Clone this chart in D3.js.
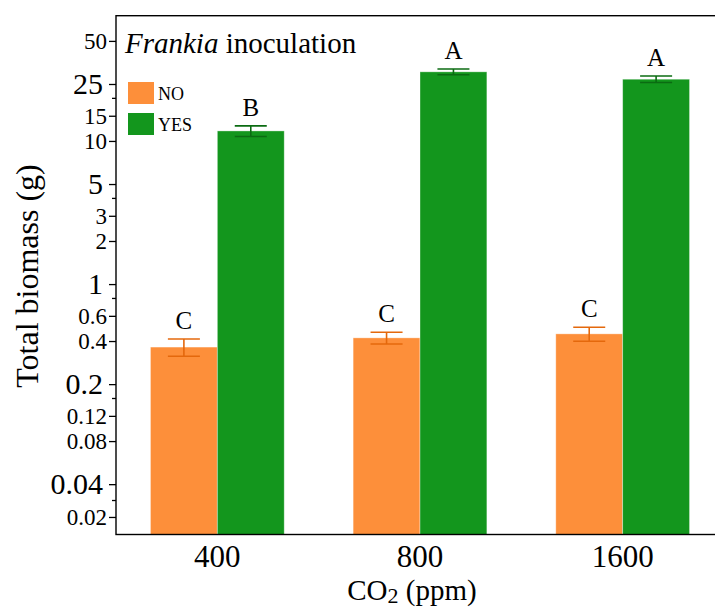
<!DOCTYPE html>
<html>
<head>
<meta charset="utf-8">
<script src="https://cdn.jsdelivr.net/npm/d3@7"></script>
<style>
  html, body { margin: 0; padding: 0; background: #fff; }
  svg { display: block; font-family: "Liberation Serif", "Times New Roman", serif; }
</style>
</head>
<body>
<svg id="chart" width="715" height="610"></svg>
<script>
// ---- data ----
const categories = ["400", "800", "1600"];
const groups = ["NO", "YES"];
const noValues = [0.363, 0.421, 0.449];
const noErrors = [0.05, 0.04, 0.05];
const yesValues = [11.75, 30.4, 27.0];
const yesErrors = [1.0, 1.4, 1.4];
const noLetters = ["C", "C", "C"];
const yesLetters = ["B", "A", "A"];
const yTickValues = [50, 25, 15, 10, 5, 3, 2, 1, 0.6, 0.4, 0.2, 0.12, 0.08, 0.04, 0.0236];
const yTickLabels = ["50", "25", "15", "10", "5", "3", "2", "1", "0.6", "0.4", "0.2", "0.12", "0.08", "0.04", "0.02"];
const yMajorLabels = ["25", "5", "1", "0.2", "0.04"];
const yMinorTicks = [20, 4, 0.8, 0.16, 0.031];
const yDomain = [0.0178, 75];

// ---- layout ----
const svg = d3.select("#chart");
const mLeft = 116, mRight = 724, mTop = 15.7, mBottom = 534.5;
const colors = { NO: "#FD8F3A", YES: "#13961D" };
const errColors = { NO: "#E4680C", YES: "#0B6B12" };
const serif = "Liberation Serif, Times New Roman, serif";

const x = d3.scaleBand().domain(categories).range([mLeft, mRight]).paddingInner(0.34).paddingOuter(0.17);
const xs = d3.scaleBand().domain(groups).range([0, x.bandwidth()]);
const y = d3.scaleLog().domain(yDomain).range([mBottom, mTop]);

const rows = [];
categories.forEach((c, i) => {
  rows.push({ cat: c, g: "NO", v: noValues[i], e: noErrors[i], l: noLetters[i] });
  rows.push({ cat: c, g: "YES", v: yesValues[i], e: yesErrors[i], l: yesLetters[i] });
});

// bars
svg.append("g").selectAll("rect").data(rows).join("rect")
  .attr("x", d => x(d.cat) + xs(d.g))
  .attr("width", xs.bandwidth())
  .attr("y", d => y(d.v))
  .attr("height", d => y(yDomain[0]) - y(d.v))
  .attr("fill", d => colors[d.g])
  .attr("stroke", "rgba(255,255,255,0.45)")
  .attr("stroke-width", 0.8);

// error bars
const eb = svg.append("g").selectAll("g").data(rows).join("g")
  .attr("stroke", d => errColors[d.g])
  .attr("stroke-width", 1.6)
  .attr("fill", "none");
const cx = d => x(d.cat) + xs(d.g) + xs.bandwidth() / 2;
const capW = 16;
eb.append("line").attr("x1", cx).attr("x2", cx).attr("y1", d => y(d.v + d.e)).attr("y2", d => y(d.v - d.e));
eb.append("line").attr("x1", d => cx(d) - capW).attr("x2", d => cx(d) + capW).attr("y1", d => y(d.v + d.e)).attr("y2", d => y(d.v + d.e));
eb.append("line").attr("x1", d => cx(d) - capW).attr("x2", d => cx(d) + capW).attr("y1", d => y(d.v - d.e)).attr("y2", d => y(d.v - d.e));

// letters
svg.append("g").selectAll("text").data(rows).join("text")
  .attr("x", cx)
  .attr("y", d => y(d.v + d.e) - 10)
  .attr("text-anchor", "middle")
  .attr("font-size", 25)
  .attr("fill", "#000")
  .text(d => d.l);

// frame
svg.append("rect")
  .attr("x", mLeft).attr("y", mTop)
  .attr("width", mRight - mLeft).attr("height", mBottom - mTop)
  .attr("fill", "none").attr("stroke", "#000").attr("stroke-width", 1.4);

// y axis
const yAxis = d3.axisLeft(y).tickValues(yTickValues).tickSize(7)
  .tickFormat((d, i) => yTickLabels[i]);
const yg = svg.append("g").attr("transform", `translate(${mLeft},0)`).call(yAxis)
  .attr("font-family", serif);
yg.select(".domain").remove();
yg.selectAll(".tick line").attr("stroke", "#000").attr("stroke-width", 1.3);
yg.selectAll(".tick text")
  .attr("fill", "#000")
  .attr("font-size", (d, i) => yMajorLabels.includes(yTickLabels[i]) ? 30 : 23)
  .attr("x", (d, i) => yMajorLabels.includes(yTickLabels[i]) ? -13 : -9);

const yMinor = d3.axisLeft(y).tickValues(yMinorTicks).tickSize(4).tickFormat("");
const ymg = svg.append("g").attr("transform", `translate(${mLeft},0)`).call(yMinor);
ymg.select(".domain").remove();
ymg.selectAll(".tick line").attr("stroke", "#000").attr("stroke-width", 1.3);

// x axis labels (no tick marks)
const xAxis = d3.axisBottom(x).tickSize(0).tickPadding(10);
const xg = svg.append("g").attr("transform", `translate(0,${mBottom})`).call(xAxis)
  .attr("font-family", serif);
xg.select(".domain").remove();
xg.selectAll(".tick text")
  .attr("font-size", 31)
  .attr("fill", "#000")
  .attr("dy", null)
  .attr("y", 32);

// axis titles
const xt = svg.append("text")
  .attr("x", 412).attr("y", 600)
  .attr("text-anchor", "middle")
  .attr("font-size", 29);
xt.append("tspan").text("CO");
xt.append("tspan").attr("font-size", 22).attr("dy", 3).text("2");
xt.append("tspan").attr("dy", -3).text(" (ppm)");

svg.append("text")
  .attr("transform", "translate(38,276) rotate(-90)")
  .attr("text-anchor", "middle")
  .attr("font-size", 32)
  .text("Total biomass (g)");

// title
const tt = svg.append("text").attr("x", 125).attr("y", 53).attr("font-size", 29);
tt.append("tspan").attr("font-style", "italic").text("Frankia");
tt.append("tspan").text(" inoculation");

// legend
const lg = svg.append("g").selectAll("g").data(groups).join("g")
  .attr("transform", (d, i) => `translate(128,${82 + i * 31})`);
lg.append("rect").attr("width", 26).attr("height", 22).attr("fill", d => colors[d]);
lg.append("text").attr("x", 30).attr("y", 18).attr("font-size", 18).text(d => d);
</script>
</body>
</html>
